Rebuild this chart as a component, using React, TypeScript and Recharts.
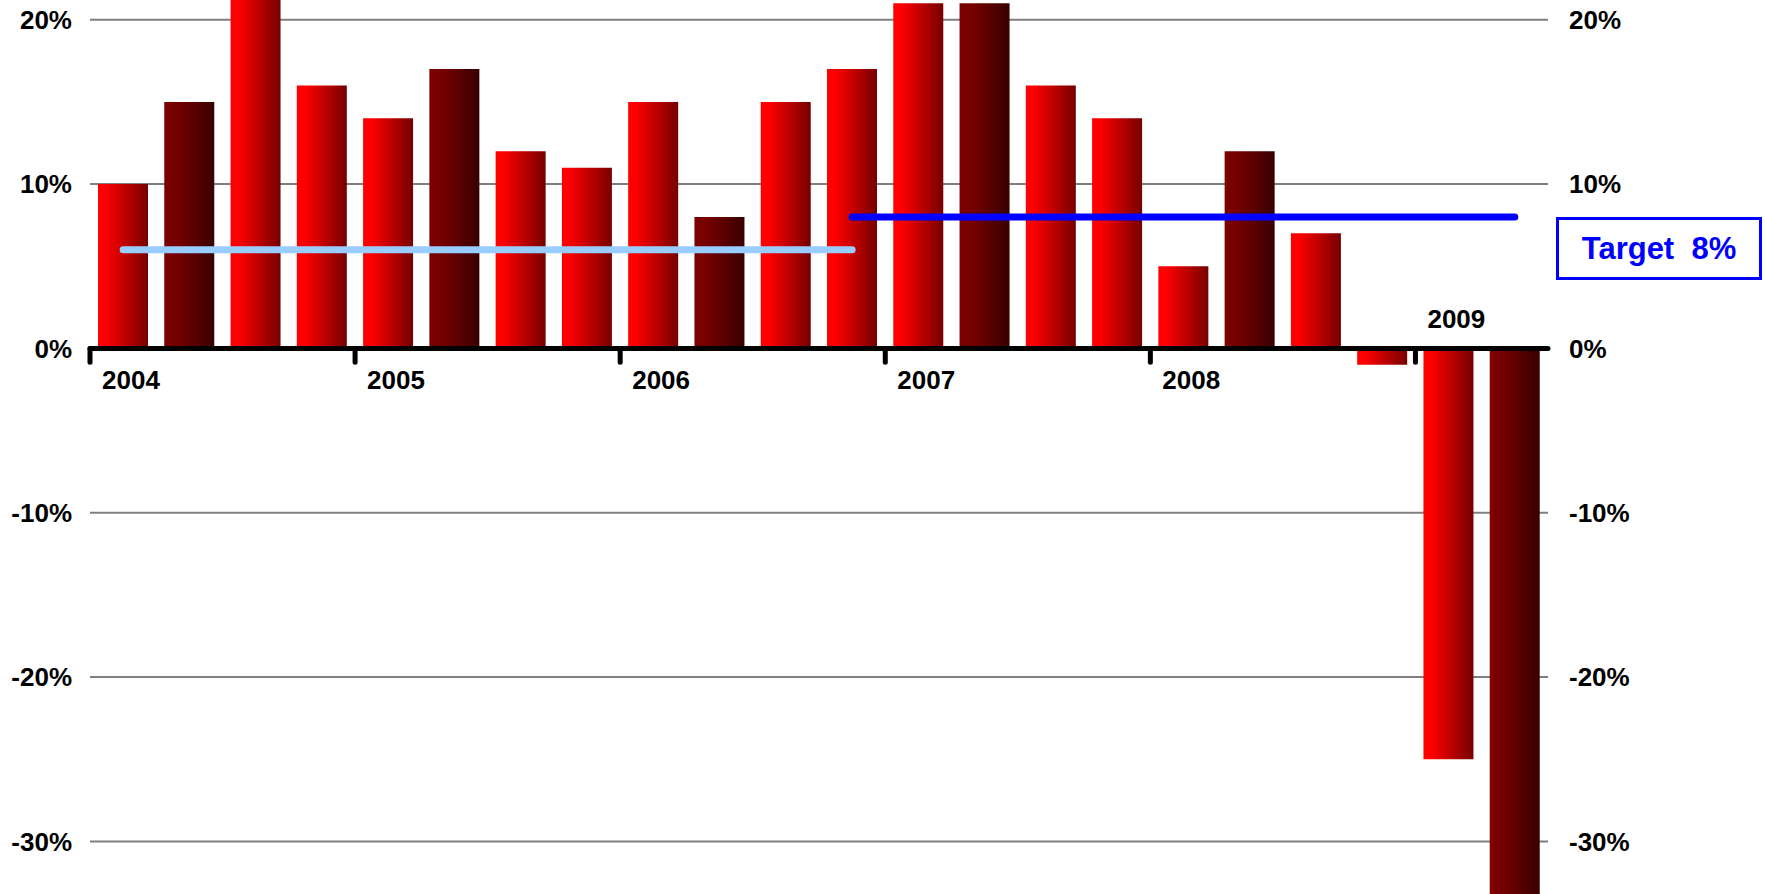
import { Bar, BarChart, CartesianGrid, Cell, Line, ReferenceLine, XAxis, YAxis } from 'recharts';

const periods = [
    '2004 Q1', '2004 Q2', '2004 Q3', '2004 Q4',
    '2005 Q1', '2005 Q2', '2005 Q3', '2005 Q4',
    '2006 Q1', '2006 Q2', '2006 Q3', '2006 Q4',
    '2007 Q1', '2007 Q2', '2007 Q3', '2007 Q4',
    '2008 Q1', '2008 Q2', '2008 Q3', '2008 Q4',
    '2009 Q1', '2009 Q2',
];
const growth = [10, 15, 22, 16, 14, 17, 12, 11, 15, 8, 15, 17, 21, 21, 16, 14, 5, 12, 7, -1, -25, -34];
const earlierAverage = [6, 6, 6, 6, 6, 6, 6, 6, 6, 6, 6, 6, null, null, null, null, null, null, null, null, null, null];
const target = [null, null, null, null, null, null, null, null, null, null, null, 8, 8, 8, 8, 8, 8, 8, 8, 8, 8, 8];
const yTicks = [-30, -20, -10, 0, 10, 20];
const targetLabel = 'Target  8%';

const FONT = "'Liberation Sans', Arial, sans-serif";

const data = periods.map((period, i) => ({
    period,
    growth: growth[i],
    earlier: earlierAverage[i],
    target: target[i],
}));

const yearStarts = data.filter((d) => d.period.endsWith('Q1'));

function YearLabel({ viewBox, text, above }: { viewBox?: any; text: string; above: boolean }) {
    if (!viewBox) return null;
    return (
        <text
            x={viewBox.x + 12}
            y={above ? viewBox.y - 20 : viewBox.y + 41}
            fontFamily={FONT}
            fontSize={26}
            fontWeight="bold"
            fill="#000"
        >
            {text}
        </text>
    );
}

const tickStyle = { fontFamily: FONT, fontSize: 26, fontWeight: 'bold', fill: '#000' };

export default function App() {
    return (
        <div style={{ position: 'absolute', left: 0, top: 0, width: 1765, height: 894 }}>
            <BarChart width={1765} height={894} data={data} margin={{ top: 0, right: 0, bottom: 0, left: 0 }}>
                <defs>
                    <linearGradient id="redGrad" x1="0" y1="0" x2="1" y2="0">
                        <stop offset="0%" stopColor="#ff0000" />
                        <stop offset="15%" stopColor="#ff0000" />
                        <stop offset="100%" stopColor="#760000" />
                    </linearGradient>
                    <linearGradient id="darkGrad" x1="0" y1="0" x2="1" y2="0">
                        <stop offset="0%" stopColor="#7c0000" />
                        <stop offset="25%" stopColor="#760000" />
                        <stop offset="100%" stopColor="#380000" />
                    </linearGradient>
                </defs>
                <CartesianGrid yAxisId="left" vertical={false} syncWithTicks stroke="#7f7f7f" strokeWidth={2} />
                <XAxis dataKey="period" hide />
                <YAxis
                    yAxisId="left"
                    orientation="left"
                    width={90}
                    domain={[-33.2, 21.2]}
                    allowDataOverflow
                    ticks={yTicks}
                    interval={0}
                    tickFormatter={(v) => `${v}%`}
                    axisLine={false}
                    tickLine={false}
                    tickSize={0}
                    tickMargin={18}
                    tick={tickStyle}
                />
                <YAxis
                    yAxisId="right"
                    orientation="right"
                    width={217}
                    domain={[-33.2, 21.2]}
                    allowDataOverflow
                    ticks={yTicks}
                    interval={0}
                    tickFormatter={(v) => `${v}%`}
                    axisLine={false}
                    tickLine={false}
                    tickSize={0}
                    tickMargin={21}
                    tick={tickStyle}
                />
                <Bar yAxisId="left" dataKey="growth" barSize={50} isAnimationActive={false}>
                    {data.map((d) => (
                        <Cell key={d.period} fill={d.period.endsWith('Q2') ? 'url(#darkGrad)' : 'url(#redGrad)'} />
                    ))}
                </Bar>
                <ReferenceLine yAxisId="left" y={0} stroke="#000" strokeWidth={5} strokeLinecap="round" />
                {yearStarts.map((d) => (
                    <ReferenceLine
                        key={d.period}
                        yAxisId="left"
                        position="start"
                        segment={[
                            { x: d.period, y: 0 },
                            { x: d.period, y: -0.85 },
                        ]}
                        stroke="#000"
                        strokeWidth={5}
                        strokeLinecap="round"
                        label={<YearLabel text={d.period.slice(0, 4)} above={d.growth < 0} />}
                    />
                ))}
                <Line
                    yAxisId="left"
                    dataKey="earlier"
                    stroke="#99ccff"
                    strokeWidth={7}
                    strokeLinecap="round"
                    dot={false}
                    activeDot={false}
                    isAnimationActive={false}
                />
                <Line
                    yAxisId="left"
                    dataKey="target"
                    stroke="#0000ff"
                    strokeWidth={7}
                    strokeLinecap="round"
                    dot={false}
                    activeDot={false}
                    isAnimationActive={false}
                />
            </BarChart>
            <div
                style={{
                    position: 'absolute',
                    left: 1556,
                    top: 217,
                    width: 206,
                    height: 63,
                    boxSizing: 'border-box',
                    border: '3px solid #0000ff',
                    display: 'flex',
                    alignItems: 'center',
                    justifyContent: 'center',
                    fontFamily: FONT,
                    fontSize: 31,
                    fontWeight: 'bold',
                    color: '#0000ff',
                    whiteSpace: 'pre',
                    background: '#fff',
                }}
            >
                {targetLabel}
            </div>
        </div>
    );
}
